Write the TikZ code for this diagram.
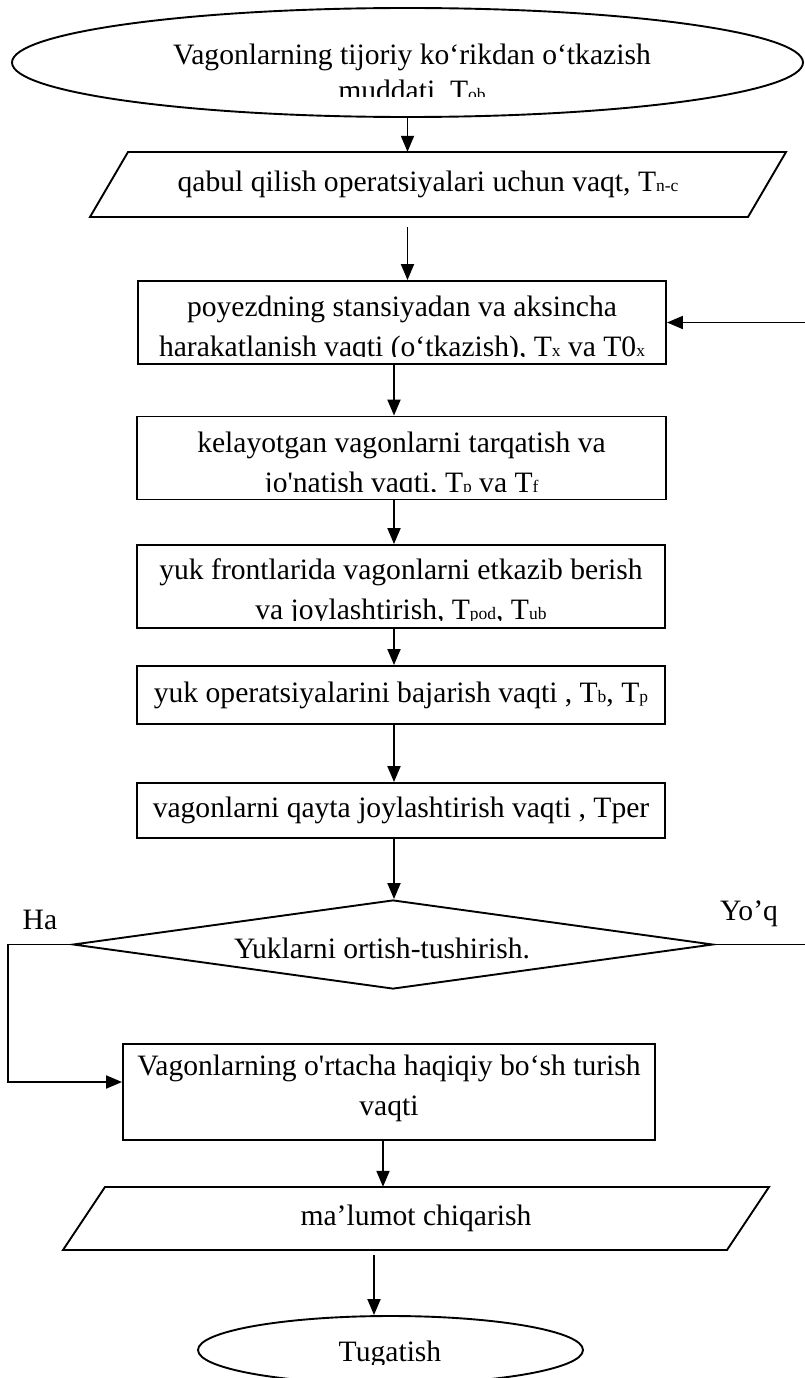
\documentclass[tikz,border=0pt]{standalone}
\usepackage{fontspec}
\setmainfont{Liberation Serif}
\usetikzlibrary{arrows.meta,shapes.geometric}
\newcommand{\lowsub}[1]{{\fontsize{17.5}{17.5}\selectfont #1}}
\newcommand{\twoln}[2]{\begin{tabular}[t]{@{}c@{}}#1\\#2\end{tabular}}
\begin{document}
\begin{tikzpicture}[x=1pt,y=-1pt,
  ln/.style={line width=1.9pt},
  arr/.style={ln,-{Triangle[length=16pt,width=13pt]}},
  box/.style={draw,ln,rectangle,inner sep=0pt},
  txt/.style={inner sep=0pt,font=\fontsize{29.6}{40}\selectfont},
  lbl/.style={txt,anchor=base}
]
\useasboundingbox (0,0) rectangle (805,1378);

% helper coordinates
\coordinate (ax) at (394,0);
\coordinate (ax2) at (374,0);
\coordinate (lx) at (8,0);
\coordinate (rx) at (805,0);

% start ellipse
\node[ellipse,draw,ln,minimum width=791,minimum height=109,inner sep=0pt] (e1) at (407.5,62.5) {};
\begin{scope}
\clip (0,0) rectangle (805,97);
\node[lbl,font=\fontsize{29.6}{36}\selectfont] (e1t) at (412,65) {\twoln{Vagonlarning tijoriy ko‘rikdan o‘tkazish}{muddati, T\lowsub{ob}}};
\end{scope}

% input parallelogram
\draw[ln] (128,152) -- (786,152) -- (748,217) -- (90,217) -- cycle;
\node[txt,minimum width=620,minimum height=65] (p1) at (428,184.5) {qabul qilish operatsiyalari uchun vaqt, T\lowsub{n-c}};

% box 1
\node[box,minimum width=528,minimum height=83] (b1) at (402,322.5) {};
\begin{scope}
\clip (0,0) rectangle (805,356);
\node[lbl] (b1t) at (402,316) {\twoln{poyezdning stansiyadan va aksincha}{harakatlanish vaqti (o‘tkazish), T\lowsub{x} va T0\lowsub{x}}};
\end{scope}

% box 2
\node[box,minimum width=529,minimum height=83] (b2) at (401.5,458) {};
\begin{scope}
\clip (0,0) rectangle (805,491);
\node[lbl] (b2t) at (401.5,452) {\twoln{kelayotgan vagonlarni tarqatish va}{jo\textquotesingle natish vaqti, T\lowsub{p} va T\lowsub{f}}};
\end{scope}

% box 3
\node[box,minimum width=528,minimum height=83] (b3) at (401,586.5) {};
\begin{scope}
\clip (0,0) rectangle (805,620);
\node[lbl] (b3t) at (401,579) {\twoln{yuk frontlarida vagonlarni etkazib berish}{va joylashtirish, T\lowsub{pod}, T\lowsub{ub}}};
\end{scope}

% box 4
\node[box,txt,draw,minimum width=528,minimum height=58] (b4) at (401,695) {yuk operatsiyalarini bajarish vaqti , T\lowsub{b}, T\lowsub{p}};

% box 5
\node[box,txt,draw,minimum width=528,minimum height=55] (b5) at (401,810.5) {vagonlarni qayta joylashtirish vaqti , Tper};

% decision
\node[diamond,draw,ln,minimum width=640,minimum height=89,inner sep=0pt] (d) at (393,944.5) {};
\node[lbl] (dt) at (382,958) {Yuklarni ortish-tushirish.};
\node[lbl] (ha) at (40,929) {Ha};
\node[lbl] (yq) at (749,920) {Yo’q};

% box 6
\node[box,minimum width=532,minimum height=96] (b6) at (389,1092) {};
\node[lbl] (b6t) at (389,1075) {\twoln{Vagonlarning o\textquotesingle rtacha haqiqiy bo‘sh turish}{vaqti}};

% output parallelogram
\draw[ln] (105,1187) -- (769,1187) -- (727,1250) -- (63,1250) -- cycle;
\node[txt,minimum width=620,minimum height=63] (p2) at (416,1218.5) {ma’lumot chiqarish};

% end ellipse
\node[ellipse,draw,ln,minimum width=385,minimum height=68,inner sep=0pt] (e2) at (390.5,1350) {};
\begin{scope}
\clip (0,0) rectangle (805,1364);
\node[lbl] (e2t) at (390,1361) {Tugatish};
\end{scope}

% connectors
\draw[arr] (e1.south) -- (e1.south |- p1.north);
\draw[arr,shorten <=10pt] (p1.south -| e1.south) -- (b1.north -| e1.south);
\draw[arr] (b1.east -| rx) -- (b1.east);
\draw[arr] (b1.south -| ax) -- (b2.north -| ax);
\draw[arr] (b2.south -| ax) -- (b3.north -| ax);
\draw[arr] (b3.south -| ax) -- (b4.north -| ax);
\draw[arr] (b4.south -| ax) -- (b5.north -| ax);
\draw[arr] (b5.south -| ax) -- (d.north -| ax);
\draw[arr] (d.west) -- (d.west -| lx) |- ([yshift=10pt]b6.west);
\draw[ln] (d.east) -- (d.east -| rx);
\draw[arr] ([xshift=-6pt]b6.south) -- ([xshift=-6pt]b6.south |- p2.north);
\draw[arr,shorten <=5pt] (p2.south -| ax2) -- (e2.north -| ax2);
\end{tikzpicture}
\end{document}
